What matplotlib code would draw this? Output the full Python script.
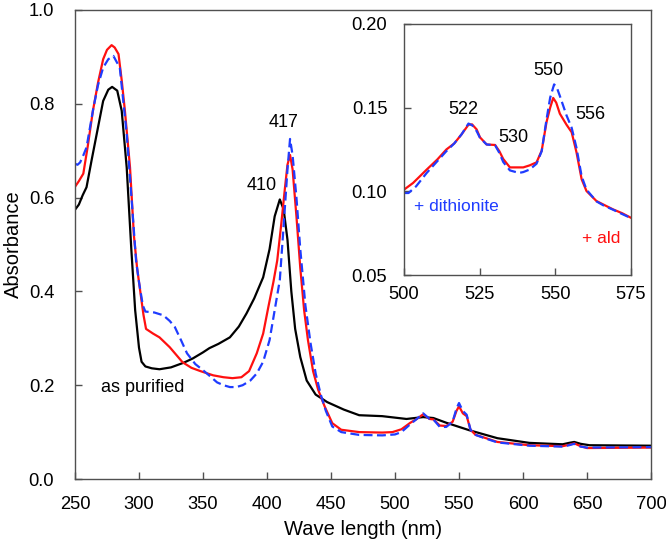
import numpy as np
import matplotlib
matplotlib.use('Agg')
import matplotlib.pyplot as plt

plt.rcParams['font.family'] = ['Liberation Sans', 'DejaVu Sans']
plt.rcParams['font.size'] = 13

# --- main spectra (wavelength nm, absorbance) ---
black_x = [250, 253, 256, 259, 263, 267, 272, 276, 279, 283, 286.5, 290.4, 294, 297, 300, 302, 305,
           310, 316, 325, 335, 342, 350, 355, 362, 371, 378, 384, 390, 397, 402, 406, 410, 413,
           416, 419, 422, 426, 431, 438, 447, 460, 472, 490, 509, 522, 530, 540, 558, 580, 605,
           631, 636, 640, 645, 652, 700]
black_y = [0.574, 0.585, 0.605, 0.622, 0.68, 0.736, 0.806, 0.83, 0.836, 0.828, 0.785, 0.664, 0.49,
           0.36, 0.28, 0.25, 0.24, 0.236, 0.234, 0.238, 0.248, 0.257, 0.27, 0.279, 0.288, 0.302,
           0.325, 0.353, 0.385, 0.43, 0.49, 0.56, 0.596, 0.575, 0.51, 0.40, 0.32, 0.26, 0.21, 0.18,
           0.164, 0.148, 0.136, 0.134, 0.128, 0.132, 0.13, 0.12, 0.104, 0.087, 0.077, 0.074, 0.077,
           0.079, 0.075, 0.072, 0.071]

red_x = [250, 253, 256.5, 260, 264, 268, 272, 275, 278.6, 281, 284, 286.5, 289, 293, 296, 298.5,
         301, 303.5, 305.5, 311, 316, 324, 334, 341, 348, 358, 366, 373, 380, 386, 392, 397, 401,
         405, 408, 411, 414, 416, 418, 420, 423, 426, 429, 432, 436, 440, 445, 451, 458, 472, 490,
         498, 505, 512, 517, 522, 527, 530, 535, 540, 545, 548, 550, 553, 556, 559, 563, 570, 580,
         605, 631, 636, 640, 645, 650, 700]
red_y = [0.623, 0.635, 0.651, 0.71, 0.785, 0.845, 0.895, 0.915, 0.925, 0.92, 0.906, 0.85, 0.785,
         0.664, 0.52, 0.45, 0.40, 0.35, 0.32, 0.31, 0.302, 0.281, 0.249, 0.237, 0.23, 0.221, 0.217,
         0.215, 0.217, 0.23, 0.268, 0.31, 0.366, 0.42, 0.466, 0.54, 0.62, 0.67, 0.691, 0.66, 0.56,
         0.45, 0.36, 0.296, 0.23, 0.19, 0.155, 0.119, 0.105, 0.1, 0.099, 0.1, 0.106, 0.12, 0.128,
         0.138, 0.128, 0.127, 0.114, 0.113, 0.122, 0.145, 0.155, 0.14, 0.134, 0.105, 0.094, 0.088,
         0.079, 0.072, 0.07, 0.073, 0.076, 0.07, 0.066, 0.067]

blue_x = [250, 252, 254, 256.5, 259, 264.3, 268, 272, 276, 280, 285, 290.4, 294.3, 297.7, 300, 303,
          305, 312, 319, 324, 328, 333, 337.5, 344, 350, 356, 361, 366, 371, 376, 381, 387, 392,
          397, 402, 406, 410, 413, 416, 418, 420, 423, 426, 430, 434, 438, 442, 446, 451, 458, 472,
          490, 500, 505, 512, 517, 522, 527, 530, 535, 540, 545, 548, 550, 553, 556, 559, 563, 570,
          580, 605, 631, 636, 640, 645, 650, 700]
blue_y = [0.672, 0.67, 0.675, 0.69, 0.707, 0.79, 0.84, 0.877, 0.895, 0.902, 0.877, 0.736, 0.594,
          0.466, 0.42, 0.37, 0.357, 0.355, 0.349, 0.337, 0.324, 0.295, 0.268, 0.245, 0.232, 0.218,
          0.206, 0.2, 0.196, 0.196, 0.2, 0.21, 0.225, 0.25, 0.296, 0.36, 0.424, 0.54, 0.66, 0.725,
          0.69, 0.6, 0.49, 0.37, 0.29, 0.225, 0.18, 0.145, 0.112, 0.1, 0.094, 0.093, 0.095, 0.1,
          0.117, 0.128, 0.14, 0.128, 0.127, 0.111, 0.111, 0.122, 0.15, 0.162, 0.145, 0.137, 0.105,
          0.094, 0.087, 0.078, 0.071, 0.069, 0.072, 0.075, 0.069, 0.067, 0.068]

# --- inset (500-575 nm) ---
ins_red_x = [500, 503, 507.5, 511, 514, 516.6, 519, 521.3, 522.5, 524, 525.1, 527.3, 530.1, 531.5,
             532.8, 535, 539.4, 541.5, 543.8, 545.5, 547.1, 548.3, 549.3, 550.3, 551.5, 553.7,
             555.4, 557, 558.7, 560.3, 563.6, 566, 569.1, 572, 575]
ins_red_y = [0.101, 0.105, 0.113, 0.119, 0.125, 0.1286, 0.134, 0.1398, 0.14, 0.137, 0.1323, 0.128,
             0.1277, 0.124, 0.1193, 0.1143, 0.1143, 0.1155, 0.1173, 0.1243, 0.1414, 0.150, 0.1558,
             0.153, 0.1464, 0.1398, 0.1353, 0.1233, 0.1072, 0.1002, 0.0942, 0.092, 0.0892, 0.087,
             0.0842]
ins_blue_x = [500, 501.5, 504, 507.5, 511, 514, 516.6, 519, 521.3, 522.5, 524, 525.1, 527.3, 530.1,
              531.5, 532.8, 535, 538, 539.4, 541.5, 543.8, 545.5, 547.1, 548.3, 549.6, 550.5,
              551.5, 553.7, 555.4, 557, 558.7, 560.3, 563.6, 566, 569.1, 572, 575]
ins_blue_y = [0.099, 0.099, 0.103, 0.111, 0.118, 0.124, 0.1286, 0.134, 0.1405, 0.1395, 0.136,
              0.132, 0.128, 0.1275, 0.123, 0.1175, 0.1125, 0.111, 0.1115, 0.113, 0.1165, 0.124,
              0.143, 0.156, 0.1639, 0.162, 0.157, 0.1454, 0.138, 0.126, 0.109, 0.101, 0.094,
              0.0915, 0.089, 0.0865, 0.084]

RED = '#ff1010'
BLUE = '#1f3cff'
SPINE = '#505050'
TICK_FS = 13.2
LABEL_FS = 14.5
NOTE_FS = 13


def style_axes(ax, xpad, ypad):
    for s in ax.spines.values():
        s.set_color(SPINE)
        s.set_linewidth(1.0)
    ax.tick_params(direction='in', length=5, width=1.0, color=SPINE, labelsize=TICK_FS)
    ax.tick_params(axis='x', pad=xpad)
    ax.tick_params(axis='y', pad=ypad)


fig = plt.figure(figsize=(6.66, 5.45), dpi=100)
ax = fig.add_axes([0.1126, 0.1211, 0.8649, 0.8606])

ax.plot(black_x, black_y, color='black', lw=1.6)
ax.plot(red_x, red_y, color=RED, lw=1.6)
ax.plot(blue_x, blue_y, color=BLUE, lw=1.6, dashes=(4, 2))

ax.set_xlim(250, 700)
ax.set_ylim(0, 1.0)
ax.set_xticks(np.arange(250, 701, 50))
ax.set_yticks(np.arange(0, 1.01, 0.2))
ax.yaxis.set_major_formatter(matplotlib.ticker.FormatStrFormatter('%.1f'))
style_axes(ax, 12.5, 15)
ax.set_xlabel('Wave length (nm)', fontsize=LABEL_FS)
ax.set_ylabel('Absorbance', fontsize=LABEL_FS)
ax.xaxis.set_label_coords(0.5, -0.088)
ax.yaxis.set_label_coords(-0.090, 0.5)

ax.text(396, 0.626, '410', ha='center', va='center', fontsize=NOTE_FS)
ax.text(413, 0.76, '417', ha='center', va='center', fontsize=NOTE_FS)
ax.text(303, 0.196, 'as purified', ha='center', va='center', fontsize=NOTE_FS)

# inset
ins = fig.add_axes([0.6066, 0.4954, 0.3408, 0.4606])
ins.plot(ins_red_x, ins_red_y, color=RED, lw=1.6)
ins.plot(ins_blue_x, ins_blue_y, color=BLUE, lw=1.6, dashes=(4, 2))
ins.set_xlim(500, 575)
ins.set_ylim(0.05, 0.20)
ins.set_xticks([500, 525, 550, 575])
ins.set_yticks([0.05, 0.10, 0.15, 0.20])
ins.yaxis.set_major_formatter(matplotlib.ticker.FormatStrFormatter('%.2f'))
style_axes(ins, 8, 12)

ins.text(519.6, 0.149, '522', ha='center', va='center', fontsize=NOTE_FS)
ins.text(536.1, 0.132, '530', ha='center', va='center', fontsize=NOTE_FS)
ins.text(547.7, 0.1725, '550', ha='center', va='center', fontsize=NOTE_FS)
ins.text(561.7, 0.146, '556', ha='center', va='center', fontsize=NOTE_FS)
ins.text(517.4, 0.091, '+ dithionite', ha='center', va='center', color=BLUE, fontsize=12.5)
ins.text(565.3, 0.072, '+ ald', ha='center', va='center', color=RED, fontsize=12.5)

fig.savefig('out.png', dpi=100)
